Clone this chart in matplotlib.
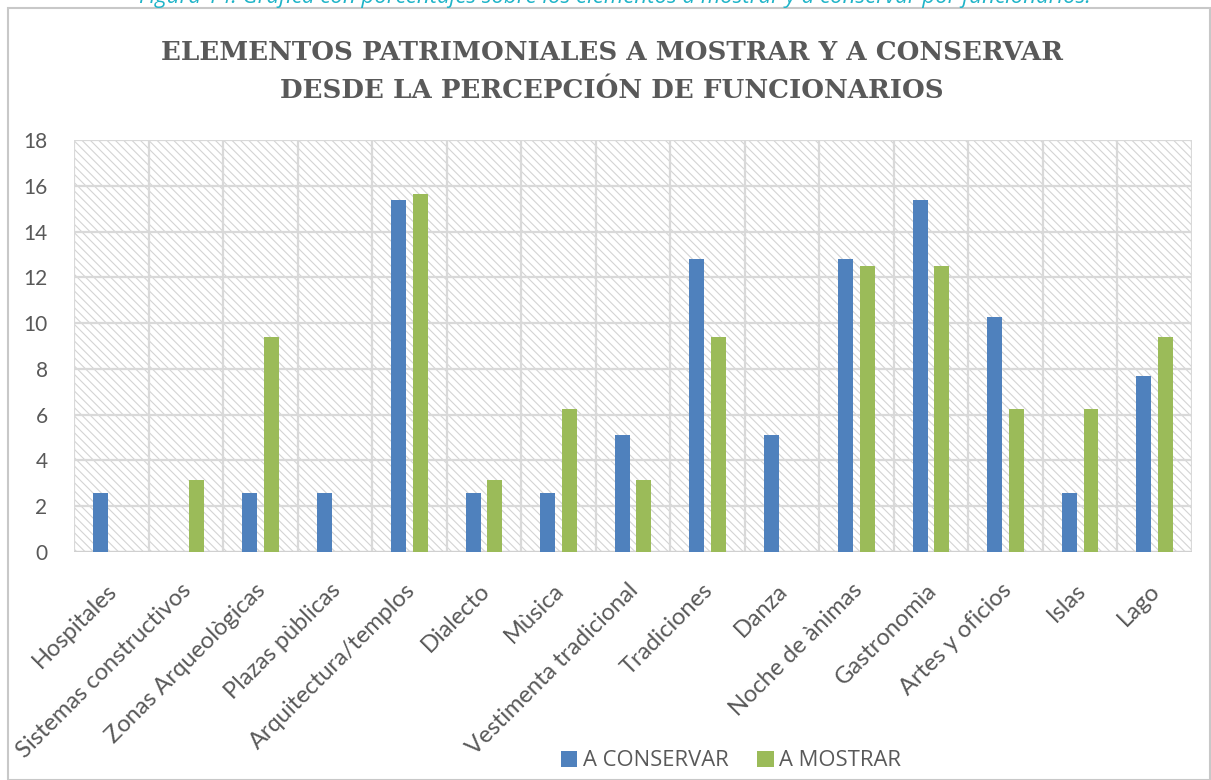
import matplotlib
matplotlib.use("Agg")
import matplotlib.pyplot as plt
import numpy as np
from matplotlib.patches import Rectangle, Patch

categories = ["Hospitales", "Sistemas constructivos", "Zonas Arqueològicas", "Plazas pùblicas",
              "Arquitectura/templos", "Dialecto", "Mùsica", "Vestimenta tradicional",
              "Tradiciones", "Danza", "Noche de ànimas", "Gastronomìa", "Artes y oficios",
              "Islas", "Lago"]
a_conservar = [2.56, 0, 2.56, 2.56, 15.38, 2.56, 2.56, 5.13, 12.82, 5.13, 12.82, 15.38, 10.26, 2.56, 7.69]
a_mostrar = [0, 3.13, 9.38, 0, 15.63, 3.13, 6.25, 3.13, 9.38, 0, 12.5, 12.5, 6.25, 6.25, 9.38]
series_names = ["A CONSERVAR", "A MOSTRAR"]
yticks = [0, 2, 4, 6, 8, 10, 12, 14, 16, 18]

BLUE = "#4f81bd"
GREEN = "#9bbb59"
GRAY = "#595959"
GRID = "#d9d9d9"

plt.rcParams['hatch.linewidth'] = 0.8
plt.rcParams['hatch.color'] = "#d0d0d0"

fig = plt.figure(figsize=(12.11, 7.80), dpi=100)
fig.patch.set_facecolor("white")

# outer chart border
fig.add_artist(Rectangle((8/1211, 0.0), 1 - 8/1211 - 0.001, 1 - 8/780, transform=fig.transFigure,
                         fill=False, edgecolor="#c8c8c8", linewidth=1.5))

# caption partially cut off at the top
fig.text(615/1211, 1.0 + 3/780, "Figura 14: Gráfica con porcentajes sobre los elementos a mostrar y a conservar por funcionarios.",
         ha="center", va="center", color="#1fb4c8", fontsize=16, style="italic", family="Open Sans")

ax = fig.add_axes([74/1211, 1 - 552/780, (1192 - 74)/1211, (552 - 140)/780])
n = len(categories)
x = np.arange(n)
ax.set_xlim(-0.5, n - 0.5)
ax.set_ylim(0, 18)

# hatched background
ax.add_patch(Rectangle((0, 0), 1, 1, transform=ax.transAxes, facecolor="white",
                       hatch="\\\\\\\\", edgecolor="#d4d4d4", linewidth=0, zorder=0))

# grid
for yv in yticks:
    ax.axhline(yv, color=GRID, linewidth=1.6, zorder=1)
for xv in np.arange(-0.5, n + 0.5, 1):
    ax.axvline(xv, color=GRID, linewidth=1.6, zorder=1)

w = 0.2
ax.bar(x - 0.145, a_conservar, width=w, color=BLUE, zorder=3)
ax.bar(x + 0.145, a_mostrar, width=w, color=GREEN, zorder=3)

for s in ax.spines.values():
    s.set_visible(False)
ax.axhline(0, color="#d0d0d0", linewidth=1.6, zorder=2)

ax.set_yticks(yticks)
ax.set_yticklabels([str(v) for v in yticks], fontsize=15, color=GRAY, family="Lato")
ax.tick_params(axis="y", length=0, pad=19)
ax.set_xticks(x - 0.07)
ax.set_xticklabels(categories, rotation=45, ha="right", rotation_mode="anchor",
                   fontsize=17, color=GRAY, family="Lato")
ax.tick_params(axis="x", length=0, pad=20)

fig.text(0.505, 1 - 52/780, "ELEMENTOS PATRIMONIALES A MOSTRAR Y A CONSERVAR",
         ha="center", va="center", fontsize=18.8, fontweight="bold", color=GRAY, family="DejaVu Serif")
fig.text(0.505, 1 - 90/780, "DESDE LA PERCEPCIÓN DE FUNCIONARIOS",
         ha="center", va="center", fontsize=18.8, fontweight="bold", color=GRAY, family="DejaVu Serif")

handles = [Patch(facecolor=BLUE, edgecolor="none"), Patch(facecolor=GREEN, edgecolor="none")]
fig.legend(handles, series_names, loc="center", bbox_to_anchor=(731/1211, 1 - 761/780), ncol=2,
           frameon=False, labelcolor=GRAY, prop={"family": "Open Sans", "size": 15.8},
           handlelength=0.75, handleheight=0.75, handletextpad=0.25, columnspacing=1.3)

fig.savefig("out.png", dpi=100, facecolor="white")
